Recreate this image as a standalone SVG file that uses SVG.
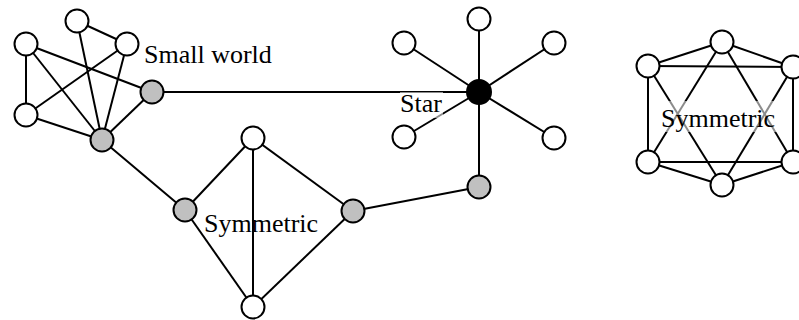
<svg xmlns="http://www.w3.org/2000/svg" width="799" height="320" viewBox="0 0 799 320">
  <style>
    .edge { stroke: #000; stroke-width: 2; fill: none; }
    .node { stroke: #000; stroke-width: 2; fill: #fff; }
    .node.bridge { fill: #c0c0c0; }
    .node.hub { fill: #000; }
    .label { font-family: "Liberation Serif", "Times New Roman", serif; font-size: 26px; fill: #000; }
    .halo { fill: #fff; opacity: 0.55; }
  </style>
  <rect width="799" height="320" fill="#fff"/>

  <g id="connectors">
    <!-- small world cluster -->
    <line class="edge" x1="77" y1="21" x2="127" y2="44"/>
    <line class="edge" x1="77" y1="21" x2="102" y2="140"/>
    <line class="edge" x1="26" y1="44" x2="26" y2="115"/>
    <line class="edge" x1="26" y1="44" x2="152" y2="92"/>
    <line class="edge" x1="26" y1="44" x2="102" y2="140"/>
    <line class="edge" x1="127" y1="44" x2="26" y2="115"/>
    <line class="edge" x1="127" y1="44" x2="102" y2="140"/>
    <line class="edge" x1="26" y1="115" x2="102" y2="140"/>
    <line class="edge" x1="102" y1="140" x2="152" y2="92"/>
    <!-- bridges between clusters -->
    <line class="edge" x1="152" y1="92" x2="479" y2="92"/>
    <line class="edge" x1="102" y1="140" x2="185" y2="210"/>
    <line class="edge" x1="353" y1="211" x2="479" y2="187"/>
    <!-- diamond -->
    <line class="edge" x1="253" y1="138" x2="185" y2="210"/>
    <line class="edge" x1="253" y1="138" x2="353" y2="211"/>
    <line class="edge" x1="253" y1="138" x2="253" y2="307"/>
    <line class="edge" x1="185" y1="210" x2="253" y2="307"/>
    <line class="edge" x1="353" y1="211" x2="253" y2="307"/>
    <!-- star -->
    <line class="edge" x1="479" y1="92" x2="479" y2="19"/>
    <line class="edge" x1="479" y1="92" x2="404" y2="43"/>
    <line class="edge" x1="479" y1="92" x2="554" y2="43"/>
    <line class="edge" x1="479" y1="92" x2="404" y2="137"/>
    <line class="edge" x1="479" y1="92" x2="554" y2="138"/>
    <line class="edge" x1="479" y1="92" x2="479" y2="187"/>
    <!-- hexagon -->
    <line class="edge" x1="722" y1="42" x2="648" y2="66"/>
    <line class="edge" x1="722" y1="42" x2="793" y2="67"/>
    <line class="edge" x1="648" y1="66" x2="793" y2="67"/>
    <line class="edge" x1="648" y1="66" x2="648" y2="162"/>
    <line class="edge" x1="793" y1="67" x2="793" y2="162"/>
    <line class="edge" x1="648" y1="162" x2="793" y2="162"/>
    <line class="edge" x1="648" y1="162" x2="722" y2="185"/>
    <line class="edge" x1="793" y1="162" x2="722" y2="185"/>
    <line class="edge" x1="722" y1="42" x2="648" y2="162"/>
    <line class="edge" x1="722" y1="42" x2="793" y2="162"/>
    <line class="edge" x1="648" y1="66" x2="722" y2="185"/>
    <line class="edge" x1="793" y1="67" x2="722" y2="185"/>
  </g>

  <g id="labels">
    <text class="label" x="144" y="63">Small world</text>
    <rect class="halo" x="400" y="92" width="43" height="26"/>
    <text class="label" x="400" y="112">Star</text>
    <text class="label" x="204" y="232">Symmetric</text>
    <rect class="halo" x="661" y="101" width="116" height="31"/>
    <text class="label" x="661" y="127">Symmetric</text>
  </g>

  <!-- small world cluster -->
  <g id="sw-top"><circle class="node" cx="77" cy="21" r="11.5"/></g>
  <g id="sw-upper-left"><circle class="node" cx="26" cy="44" r="11.5"/></g>
  <g id="sw-upper-right"><circle class="node" cx="127" cy="44" r="11.5"/></g>
  <g id="sw-lower-left"><circle class="node" cx="26" cy="115" r="11.5"/></g>
  <g id="sw-bridge-low"><circle class="node bridge" cx="102" cy="140" r="11.5"/></g>
  <g id="sw-bridge-right"><circle class="node bridge" cx="152" cy="92" r="11.5"/></g>

  <!-- diamond -->
  <g id="dm-top"><circle class="node" cx="253" cy="138" r="11.5"/></g>
  <g id="dm-left"><circle class="node bridge" cx="185" cy="210" r="11.5"/></g>
  <g id="dm-right"><circle class="node bridge" cx="353" cy="211" r="11.5"/></g>
  <g id="dm-bottom"><circle class="node" cx="253" cy="307" r="11.5"/></g>

  <!-- star -->
  <g id="st-hub"><circle class="node hub" cx="479" cy="92" r="12"/></g>
  <g id="st-top"><circle class="node" cx="479" cy="19" r="11.5"/></g>
  <g id="st-upper-left"><circle class="node" cx="404" cy="43" r="11.5"/></g>
  <g id="st-upper-right"><circle class="node" cx="554" cy="43" r="11.5"/></g>
  <g id="st-lower-left"><circle class="node" cx="404" cy="137" r="11.5"/></g>
  <g id="st-lower-right"><circle class="node" cx="554" cy="138" r="11.5"/></g>
  <g id="st-bottom"><circle class="node bridge" cx="479" cy="187" r="11.5"/></g>

  <!-- hexagon -->
  <g id="hx-top"><circle class="node" cx="722" cy="42" r="11.5"/></g>
  <g id="hx-upper-left"><circle class="node" cx="648" cy="66" r="11.5"/></g>
  <g id="hx-upper-right"><circle class="node" cx="793" cy="67" r="11.5"/></g>
  <g id="hx-lower-left"><circle class="node" cx="648" cy="162" r="11.5"/></g>
  <g id="hx-lower-right"><circle class="node" cx="793" cy="162" r="11.5"/></g>
  <g id="hx-bottom"><circle class="node" cx="722" cy="185" r="11.5"/></g>
</svg>
